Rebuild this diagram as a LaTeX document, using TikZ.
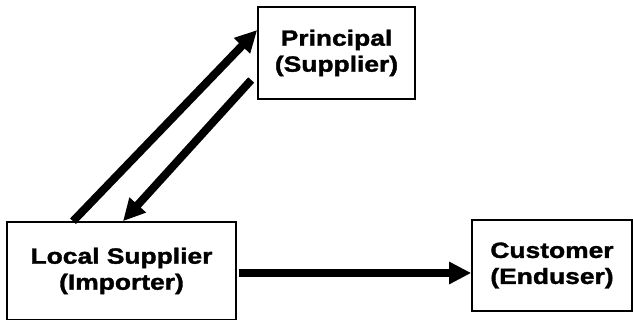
\documentclass[tikz,border=0pt]{standalone}
\usepackage{fontspec}
\newfontfamily\boxfont[FakeStretch=1.2,FakeBold=1.6]{Liberation Sans}
\usetikzlibrary{arrows.meta,calc,positioning}
\begin{document}
\begin{tikzpicture}[x=1pt,y=-1pt,
    party/.style={draw,line width=1.6pt,align=center,inner sep=0pt,
      font=\boxfont\bfseries\fontsize{22}{26}\selectfont},
    flow/.style={line width=8pt,-{Triangle[length=22pt,width=21pt]}}]
  \useasboundingbox (0,0) rectangle (633,320);
  \node[party,minimum width=157pt,minimum height=92pt] (princ) at (336.5,53) {Principal\\(Supplier)};
  \node[party,minimum width=229pt,minimum height=98pt] (local) at (121.5,271) {Local Supplier\\(Importer)};
  \node[party,minimum width=160pt,minimum height=91pt] (cust) at (552,265.5) {Customer\\(Enduser)};
  \draw[flow] ([xshift=-48.5pt]local.north) -- ([yshift=23pt]princ.west);
  \draw[flow] ([xshift=-6pt,yshift=-27pt]princ.west) -- ([xshift=1.5pt]local.north);
  \draw[flow] ([xshift=2pt,yshift=-2pt]local.east) -- ([yshift=-7.5pt]cust.west);
\end{tikzpicture}
\end{document}
